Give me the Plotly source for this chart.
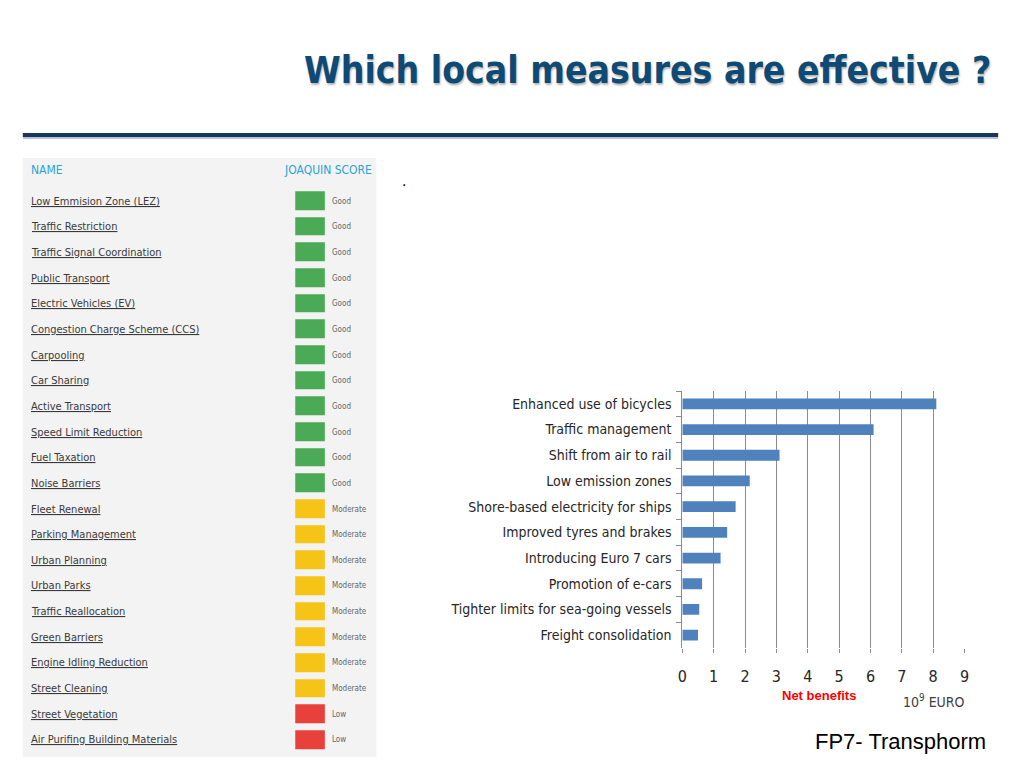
import plotly.graph_objects as go

W, H = 1024, 768

# ---------------- data ----------------
measures = ["Low Emmision Zone (LEZ)", "Traffic Restriction", "Traffic Signal Coordination",
            "Public Transport", "Electric Vehicles (EV)", "Congestion Charge Scheme (CCS)",
            "Carpooling", "Car Sharing", "Active Transport", "Speed Limit Reduction",
            "Fuel Taxation", "Noise Barriers", "Fleet Renewal", "Parking Management",
            "Urban Planning", "Urban Parks", "Traffic Reallocation", "Green Barriers",
            "Engine Idling Reduction", "Street Cleaning", "Street Vegetation",
            "Air Purifing Building Materials"]
scores = ["Good"] * 12 + ["Moderate"] * 8 + ["Low"] * 2
score_level = {"Low": 0, "Moderate": 1, "Good": 2}

benefit_labels = ["Enhanced use of bicycles", "Traffic management", "Shift from air to rail",
                  "Low emission zones", "Shore-based electricity for ships",
                  "Improved tyres and brakes", "Introducing Euro 7 cars",
                  "Promotion of e-cars", "Tighter limits for sea-going vessels",
                  "Freight consolidation"]
benefit_values = [8.1, 6.1, 3.1, 2.15, 1.7, 1.43, 1.22, 0.63, 0.54, 0.5]
x_ticks = list(range(0, 10))

COND = "DejaVu Sans Condensed, Liberation Sans Narrow, Arial Narrow, sans-serif"
SANS = "Liberation Sans, Arial, sans-serif"


def px(x):
    return x / W


def py(y):
    return 1 - y / H


fig = go.Figure()

# ---------------- bar chart ----------------
fig.add_trace(go.Bar(
    x=benefit_values, y=benefit_labels, orientation="h",
    marker=dict(color="#4f81bd", line=dict(width=0)),
    width=0.42, xaxis="x", yaxis="y", showlegend=False, hoverinfo="skip",
))

# ---------------- score table (heatmap cells) ----------------
fig.add_trace(go.Heatmap(
    z=[[score_level[s]] for s in scores], x=["score"], y=measures,
    xaxis="x2", yaxis="y2", showscale=False, ygap=7, xgap=0,
    zmin=0, zmax=2,
    colorscale=[[0, "#e8413b"], [0.33, "#e8413b"], [0.33, "#f5c416"], [0.67, "#f5c416"],
                [0.67, "#4aaa55"], [1, "#4aaa55"]],
    hoverinfo="skip",
))

annotations = []
for name, s in zip(measures, scores):
    annotations.append(dict(
        x=px(24), xref="paper", y=name, yref="y2", xanchor="left", yanchor="middle",
        text=name, showarrow=False,
        font=dict(family=COND, size=11, color="#3a3a3a", lineposition="under"),
    ))
    annotations.append(dict(
        x=px(328), xref="paper", y=name, yref="y2", xanchor="left", yanchor="middle",
        text=s, showarrow=False, font=dict(family=COND, size=8, color="#666666"),
    ))

annotations += [
    dict(x=px(24), y=py(170), xref="paper", yref="paper", xanchor="left", yanchor="middle",
         text="NAME", showarrow=False,
         font=dict(family=COND, size=12, color="#2aa3d6")),
    dict(x=px(373), y=py(170), xref="paper", yref="paper", xanchor="right", yanchor="middle",
         text="JOAQUIN SCORE", showarrow=False,
         font=dict(family=COND, size=12, color="#2aa3d6")),
    dict(x=px(649), y=py(70), xref="paper", yref="paper", xanchor="center", yanchor="middle",
         text="Which local measures are effective ?", showarrow=False,
         font=dict(family=COND, size=37, color="#0f4a75", weight=900,
                   shadow="1px 2px 2px #b8b8b8")),
    dict(x=px(403), y=py(180), xref="paper", yref="paper", xanchor="center", yanchor="middle",
         text=".", showarrow=False, font=dict(family=SANS, size=16, color="#000000")),
    dict(x=px(822), y=py(695), xref="paper", yref="paper", xanchor="center", yanchor="middle",
         text="<b>Net benefits</b>", showarrow=False,
         font=dict(family=SANS, size=13, color="#ff0000")),
    dict(x=px(938), y=py(701), xref="paper", yref="paper", xanchor="center", yanchor="middle",
         text="10<sup>9</sup> EURO", showarrow=False,
         font=dict(family=COND, size=14, color="#404040")),
    dict(x=px(904), y=py(741), xref="paper", yref="paper", xanchor="center", yanchor="middle",
         text="FP7- Transphorm", showarrow=False,
         font=dict(family=SANS, size=22, color="#000000")),
]

shapes = [
    dict(type="rect", xref="paper", yref="paper", x0=px(18), x1=px(375), y0=py(757), y1=py(158),
         fillcolor="#f3f3f3", line=dict(width=0), layer="below"),
    dict(type="line", xref="paper", yref="paper", x0=px(18), x1=px(1003), y0=py(138), y1=py(138),
         line=dict(color="#b9c3cf", width=2)),
    dict(type="line", xref="paper", yref="paper", x0=px(18), x1=px(1003), y0=py(135), y1=py(135),
         line=dict(color="#17375e", width=4)),
]

fig.update_layout(
    width=W, height=H,
    margin=dict(l=0, r=0, t=0, b=0),
    paper_bgcolor="white", plot_bgcolor="white",
    showlegend=False,
    annotations=annotations, shapes=shapes,
    xaxis=dict(
        domain=[px(684), px(969)], anchor="y", range=[0, 9], tickvals=x_ticks,
        showgrid=True, gridcolor="#8c8c8c", gridwidth=1, zeroline=False,
        ticks="outside", ticklen=4, tickcolor="#8c8c8c", showline=False,
        tickfont=dict(family=COND, size=16, color="#262626"),
        ticklabelstandoff=10, fixedrange=True,
    ),
    yaxis=dict(
        domain=[py(648), py(391)], anchor="x", type="category",
        categoryorder="array", categoryarray=benefit_labels, autorange="reversed",
        showline=True, linecolor="#8c8c8c", linewidth=1, showgrid=False,
        ticks="outside", tickson="boundaries", ticklen=5, tickcolor="#8c8c8c",
        tickfont=dict(family=COND, size=14, color="#262626"),
        ticklabelstandoff=7, fixedrange=True,
    ),
    xaxis2=dict(domain=[px(293), px(323)], anchor="y2", visible=False, fixedrange=True),
    yaxis2=dict(domain=[py(752.8), py(188.2)], anchor="x2", type="category",
                categoryorder="array", categoryarray=measures, autorange="reversed",
                visible=False, fixedrange=True),
)

fig.write_html(
    "out.html",
    config={"displayModeBar": False},
    post_script="document.body.style.margin='0';document.body.style.overflow='hidden';",
)
